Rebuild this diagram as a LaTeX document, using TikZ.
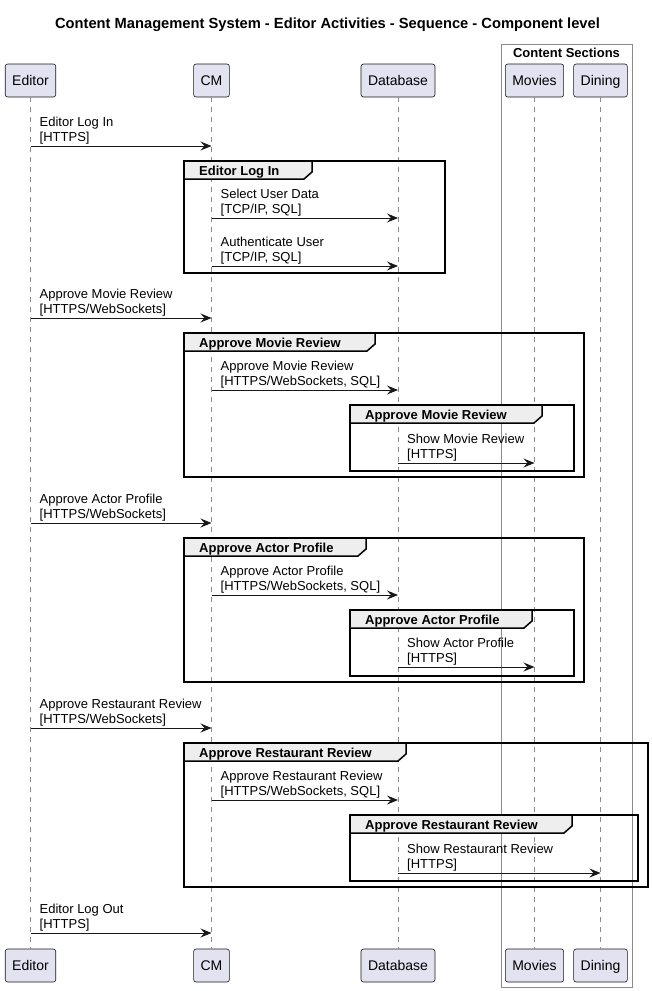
\documentclass[tikz,border=0pt]{standalone}
\usepackage{fontspec}
\setmainfont{Liberation Sans}
\usetikzlibrary{arrows.meta,calc}
\definecolor{partfill}{HTML}{E2E2F0}
\definecolor{partline}{HTML}{181818}
\definecolor{tabfill}{HTML}{EEEEEE}
\definecolor{sectline}{HTML}{8A8A8A}
\definecolor{lifecol}{HTML}{8C8C8C}
\newcommand\msgtext[2]{\vtop{\baselineskip=15pt\hbox{#1}\hbox{#2}}}
% name, x1, y1, x2, y2, tab right, label
\newcommand\seqframe[7]{%
  \draw[framebox] (#2,#3) rectangle (#4,#5);
  \filldraw[tabshape] (#2,#3) -- (#6,#3) -- (#6,#3+11) -- (#6-8,#3+18) -- (#2,#3+18) -- cycle;
  \node[framelabel] (#1) at (#2+15,#3+14) {#7};
}
% name, from, to, y, line1, line2
\newcommand\seqmsg[6]{%
  \draw[msg] (#2 |- 0,#4) -- (#3 |- 0,#4);
  \node[msglabel] (#1) at ($(#2 |- 0,#4)+(9,-20)$) {\msgtext{#5}{#6}};
}
\begin{document}
\begin{tikzpicture}[x=1pt,y=-1pt,
  part/.style={draw=partline, fill=partfill, line width=0.6pt, rounded corners=2.5pt,
    minimum height=33pt, inner xsep=7pt, inner ysep=0pt, text height=10pt, text depth=0pt,
    font=\fontsize{14}{16}\selectfont},
  lifeline/.style={draw=lifecol, line width=0.7pt, dash pattern=on 5pt off 5pt},
  msg/.style={draw=partline, line width=1pt, -{Stealth[length=11pt,width=9pt,inset=4pt]}},
  msglabel/.style={anchor=base west, inner sep=0pt, font=\fontsize{13}{15}\selectfont},
  framebox/.style={draw=black, line width=1.5pt},
  tabshape/.style={draw=black, fill=tabfill, line width=1.5pt, line join=miter},
  framelabel/.style={anchor=base west, inner sep=0pt, font=\bfseries\fontsize{13}{15}\selectfont},
  sectbox/.style={draw=sectline, line width=0.8pt},
]
\useasboundingbox[fill=white] (0,0) rectangle (652,991);

% title
\node[anchor=base, inner sep=0pt, font=\bfseries\fontsize{14.7}{17}\selectfont] (title) at (327.5,28)
  {Content Management System - Editor Activities - Sequence - Component level};

% content sections box
\draw[sectbox] (501,44) rectangle (632,987);
\node[anchor=base, inner sep=0pt, font=\bfseries\fontsize{13}{15}\selectfont] (secttitle) at (566.5,57) {Content Sections};

% participants
\node[part] (edT) at (30.5,80.5) {Editor};
\node[part] (cmT) at (211.5,80.5) {CM};
\node[part] (dbT) at (398,80.5) {Database};
\node[part] (mvT) at (534.5,80.5) {Movies};
\node[part] (dnT) at (600.5,80.5) {Dining};
\node[part] (edB) at (30.5,965.5) {Editor};
\node[part] (cmB) at (211.5,965.5) {CM};
\node[part] (dbB) at (398,965.5) {Database};
\node[part] (mvB) at (534.5,965.5) {Movies};
\node[part] (dnB) at (600.5,965.5) {Dining};

% lifelines
\foreach \p in {ed,cm,db,mv,dn}{
  \draw[lifeline] (\p T.south) -- (\p B.north);
}

% frames
\seqframe{fLogin}{184}{161}{445}{273}{312}{Editor Log In}
\seqframe{fMovie}{184}{333}{584}{477}{375}{Approve Movie Review}
\seqframe{fMovieIn}{350}{405}{574}{471}{542}{Approve Movie Review}
\seqframe{fActor}{184}{538}{584}{682}{366}{Approve Actor Profile}
\seqframe{fActorIn}{350}{610}{574}{676}{532}{Approve Actor Profile}
\seqframe{fRest}{184}{743}{648}{887}{406}{Approve Restaurant Review}
\seqframe{fRestIn}{350}{815}{638}{881}{572}{Approve Restaurant Review}

% messages
\seqmsg{m1}{edT}{cmT}{146}{Editor Log In}{[HTTPS]}
\seqmsg{m2}{cmT}{dbT}{218}{Select User Data}{[TCP/IP, SQL]}
\seqmsg{m3}{cmT}{dbT}{266}{Authenticate User}{[TCP/IP, SQL]}
\seqmsg{m4}{edT}{cmT}{318}{Approve Movie Review}{[HTTPS/WebSockets]}
\seqmsg{m5}{cmT}{dbT}{390}{Approve Movie Review}{[HTTPS/WebSockets, SQL]}
\seqmsg{m6}{dbT}{mvT}{463}{Show Movie Review}{[HTTPS]}
\seqmsg{m7}{edT}{cmT}{523}{Approve Actor Profile}{[HTTPS/WebSockets]}
\seqmsg{m8}{cmT}{dbT}{595}{Approve Actor Profile}{[HTTPS/WebSockets, SQL]}
\seqmsg{m9}{dbT}{mvT}{667}{Show Actor Profile}{[HTTPS]}
\seqmsg{m10}{edT}{cmT}{728}{Approve Restaurant Review}{[HTTPS/WebSockets]}
\seqmsg{m11}{cmT}{dbT}{800}{Approve Restaurant Review}{[HTTPS/WebSockets, SQL]}
\seqmsg{m12}{dbT}{dnT}{873}{Show Restaurant Review}{[HTTPS]}
\seqmsg{m13}{edT}{cmT}{933}{Editor Log Out}{[HTTPS]}
\end{tikzpicture}
\end{document}
